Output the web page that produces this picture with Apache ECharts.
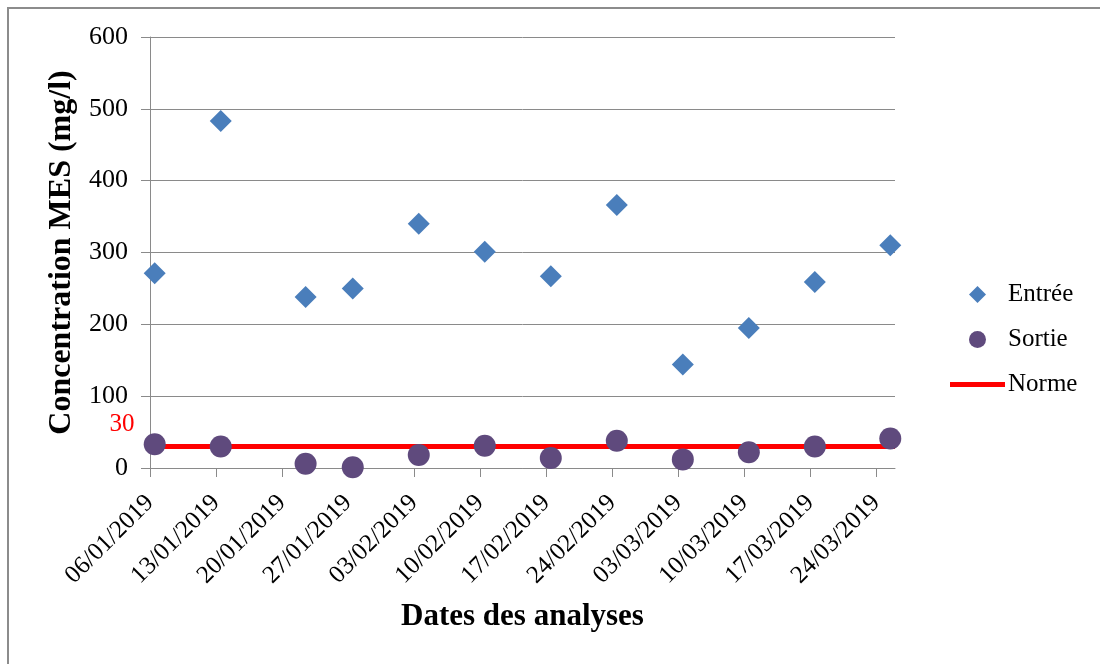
<!DOCTYPE html>
<html>
<head>
<meta charset="utf-8">
<script src="https://cdn.jsdelivr.net/npm/echarts@6/dist/echarts.min.js"></script>
<style>html,body{margin:0;padding:0;background:#fff}#c{width:1100px;height:664px}</style>
</head>
<body>
<div id="c"></div>
<script>
// ---- data ----
var sampleDates = ['06/01/2019','13/01/2019','22/01/2019','27/01/2019','03/02/2019','10/02/2019','17/02/2019','24/02/2019','03/03/2019','10/03/2019','17/03/2019','25/03/2019'];
var entree = [271, 483, 238, 250, 340, 301, 267, 366, 144, 195, 259, 310];
var sortie = [33, 30, 6, 1, 18, 31, 14, 38, 12, 22, 30, 41];
var norme = 30;
var tickLabels = ['06/01/2019','13/01/2019','20/01/2019','27/01/2019','03/02/2019','10/02/2019','17/02/2019','24/02/2019','03/03/2019','10/03/2019','17/03/2019','24/03/2019'];
var axisStart = '06/01/2019';
var axisEnd = '26/03/2019';

function toDay(s) {
  var p = s.split('/');
  return Date.UTC(+p[2], +p[1] - 1, +p[0]) / 86400000;
}
var d0 = toDay(axisStart);
function off(s) { return toDay(s) - d0; }

var tickVals = tickLabels.map(off);
var labelMap = {};
tickLabels.forEach(function (t) { labelMap[off(t)] = t; });

var entreeData = sampleDates.map(function (d, i) { return [off(d) + 0.5, entree[i]]; });
var sortieData = sampleDates.map(function (d, i) { return [off(d) + 0.5, sortie[i]]; });
var normeData = [[0, norme], [off(axisEnd), norme]];

var FONT = "'Liberation Serif','Times New Roman',serif";
var GRAY = '#8a8a8a';

var chart = echarts.init(document.getElementById('c'));
var option = {
  backgroundColor: '#fff',
  animation: false,
  grid: { left: 150, right: 205, top: 37, bottom: 196, containLabel: false },
  legend: {
    orient: 'vertical',
    left: 950,
    top: 282,
    padding: 0,
    itemWidth: 55,
    itemHeight: 17,
    itemGap: 20,
    symbolKeepAspect: true,
    textStyle: { fontFamily: FONT, fontSize: 25, color: '#000', padding: [0, 0, 0, -2] },
    data: [
      { name: 'Entrée', icon: 'path://M0,1L1,0L2,1L1,2Z' },
      { name: 'Sortie', icon: 'circle' },
      { name: 'Norme', icon: 'path://M0,0H55V5H0Z' }
    ]
  },
  xAxis: {
    type: 'value',
    min: 0,
    max: off(axisEnd),
    interval: 7,
    name: 'Dates des analyses',
    nameLocation: 'middle',
    nameGap: 133,
    nameTextStyle: { fontFamily: FONT, fontSize: 31, fontWeight: 'bold', color: '#000' },
    axisLine: { show: true, lineStyle: { color: GRAY, width: 1 } },
    axisTick: { show: true, length: 9, lineStyle: { color: GRAY }, customValues: tickVals },
    axisLabel: {
      customValues: tickVals,
      rotate: 45,
      margin: 31,
      fontFamily: FONT,
      fontSize: 25,
      color: '#000',
      formatter: function (v) { return labelMap[v] || ''; }
    },
    splitLine: { show: false }
  },
  yAxis: {
    type: 'value',
    min: 0,
    max: 600,
    interval: 100,
    name: 'Concentration MES (mg/l)',
    nameLocation: 'middle',
    nameGap: 72,
    nameTextStyle: { fontFamily: FONT, fontSize: 32, fontWeight: 'bold', color: '#000' },
    axisLine: { show: true, lineStyle: { color: GRAY, width: 1 } },
    axisTick: { show: true, length: 9, lineStyle: { color: GRAY } },
    axisLabel: { margin: 22, fontFamily: FONT, fontSize: 26, color: '#000' },
    splitLine: { show: true, lineStyle: { color: GRAY, width: 1 } }
  },
  series: [
    {
      name: 'Entrée',
      type: 'scatter',
      symbol: 'diamond',
      symbolSize: 22,
      itemStyle: { color: '#4a7ebb', opacity: 1 },
      z: 4,
      data: entreeData
    },
    {
      name: 'Sortie',
      type: 'scatter',
      symbol: 'circle',
      symbolSize: 22,
      itemStyle: { color: '#5f4a7d', opacity: 1 },
      z: 4,
      data: sortieData
    },
    {
      name: 'Norme',
      type: 'line',
      showSymbol: false,
      symbol: 'none',
      lineStyle: { color: '#ff0000', width: 5 },
      itemStyle: { color: '#ff0000' },
      z: 2,
      data: normeData
    }
  ]
};
chart.setOption(option);

var p = chart.convertToPixel({ gridIndex: 0 }, [0, norme]);
chart.setOption({
  graphic: [
    {
      type: 'rect',
      silent: true,
      shape: { x: 8, y: 8, width: 1200, height: 700 },
      style: { fill: 'none', stroke: '#8c8c8c', lineWidth: 2 },
      z: 0
    },
    {
      type: 'text',
      silent: true,
      x: p[0] - 28,
      y: p[1] - 22,
      style: {
        text: String(norme),
        fill: '#ff0000',
        font: "25px " + FONT,
        textAlign: 'center',
        textVerticalAlign: 'middle'
      },
      z: 10
    }
  ]
});
</script>
</body>
</html>
